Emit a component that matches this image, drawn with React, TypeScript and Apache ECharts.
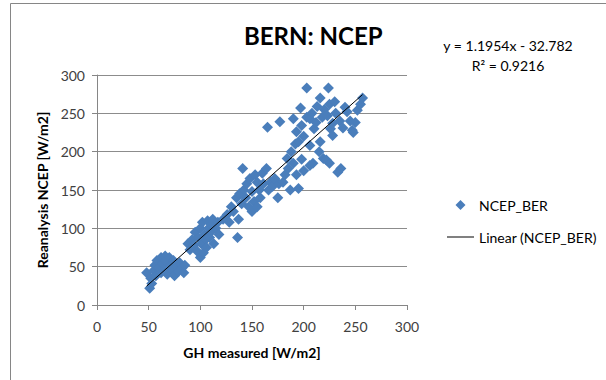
import React, { useEffect, useRef } from "react";
import * as echarts from "echarts";

// GH measured [W/m2]
const ghMeasured: number[] = [
  48, 51, 52, 53, 55, 56, 57, 58, 60, 62, 62, 63, 66, 66, 67, 68, 70, 71, 72, 74, 75, 77, 79, 80, 82, 84, 85,
  88, 90, 92, 94, 95, 97, 98, 100, 100, 101, 102, 103, 104, 105, 106, 107, 108, 109, 110, 111, 112, 113, 115, 117, 118, 122, 126,
  136,
  128, 130, 132, 135, 137, 138, 140, 141, 142, 144, 145, 147, 148, 150, 150, 152, 153, 155, 155, 157, 158, 160, 161, 164, 166, 168, 170, 172, 175, 176, 165, 177,
  180, 182, 184, 185, 187, 188, 190, 190, 192, 193, 193, 195, 195, 197, 198, 198, 200, 200, 203, 203, 206, 206, 206, 208, 209, 210, 212, 213, 215, 216, 216, 218, 219, 220, 222, 223, 224, 225, 225, 226, 228, 228, 230, 231, 233, 235, 236, 238, 240, 242, 245, 247, 250, 252, 255, 257, 248,
];

// Reanalysis NCEP [W/m2]
const ncepReanalysis: number[] = [
  42, 22, 35, 28, 45, 52, 38, 58, 48, 62, 42, 54, 64, 48, 57, 40, 62, 52, 46, 58, 38, 50, 44, 55, 48, 42, 52,
  80, 72, 85, 78, 95, 70, 88, 62, 100, 80, 108, 68, 92, 85, 75, 110, 100, 88, 95, 105, 112, 80, 100, 108, 92, 112, 118,
  88,
  108, 128, 122, 140, 112, 145, 132, 178, 150, 140, 158, 128, 165, 148, 122, 135, 170, 160, 128, 150, 140, 172, 158, 178, 150, 160, 155, 165, 140, 158, 232, 239,
  160, 170, 191, 178, 150, 200, 185, 243, 210, 170, 226, 152, 213, 257, 234, 190, 220, 175, 283, 245, 208, 243, 182, 250, 185, 230, 238, 259, 200, 213, 270, 245, 191, 255, 189, 247, 283, 185, 262, 230, 221, 237, 265, 250, 173, 240, 178, 231, 258, 252, 240, 228, 238, 254, 262, 270, 225,
];

// Linear trend shown in the chart: y = 1.1954x - 32.782
const trendSlope = 1.1954;
const trendIntercept = -32.782;
const trendLabel = ["y = 1.1954x - 32.782", "R\u00B2 = 0.9216"];

const seriesName = "NCEP_BER";
const trendName = "Linear (NCEP_BER)";

const FONT = "Lato, 'Liberation Sans', sans-serif";

export default function App() {
  const ref = useRef<HTMLDivElement>(null);
  useEffect(() => {
    if (!ref.current) return;
    const chart = echarts.init(ref.current, undefined, { renderer: "svg" });
    const points = ghMeasured.map((x, i) => [x, ncepReanalysis[i]]);
    const xMin = Math.min(...ghMeasured);
    const xMax = Math.max(...ghMeasured);
    const trend = [
      [xMin, trendSlope * xMin + trendIntercept],
      [xMax, trendSlope * xMax + trendIntercept],
    ];
    chart.setOption({
      animation: false,
      backgroundColor: "#ffffff",
      textStyle: { fontFamily: FONT },
      title: {
        text: "BERN: NCEP",
        left: 244,
        top: 23,
        padding: 0,
        textStyle: { fontSize: 24, fontWeight: "bold", color: "#000", fontFamily: FONT },
      },
      grid: { left: 97, right: 199, top: 75, bottom: 75, containLabel: false },
      legend: {
        orient: "vertical",
        left: 447,
        top: 197,
        itemWidth: 27,
        itemHeight: 10,
        itemGap: 16,
        padding: 0,
        symbolKeepAspect: true,
        textStyle: { fontSize: 14, color: "#000", fontFamily: FONT, lineHeight: 16 },
        data: [
          { name: seriesName, icon: "path://M0,4.5L4.5,0L9,4.5L4.5,9Z" },
          { name: trendName, icon: "path://M0,0H27V1H0Z", itemStyle: { color: "#000" } },
        ],
      },
      xAxis: {
        type: "value",
        min: 0,
        max: 300,
        interval: 50,
        name: "GH measured [W/m2]",
        nameLocation: "middle",
        nameGap: 40,
        nameTextStyle: { fontSize: 14, fontWeight: "bold", color: "#000", fontFamily: FONT },
        axisLine: { show: true, lineStyle: { color: "#868686", width: 1 } },
        axisTick: { show: true, length: 5, lineStyle: { color: "#868686" } },
        axisLabel: { fontSize: 14, color: "#404040", margin: 14, fontFamily: FONT },
        splitLine: { show: false },
      },
      yAxis: {
        type: "value",
        min: 0,
        max: 300,
        interval: 50,
        name: "Reanalysis NCEP [W/m2]",
        nameLocation: "middle",
        nameGap: 48,
        nameRotate: 90,
        nameTextStyle: { fontSize: 14, fontWeight: "bold", color: "#000", fontFamily: FONT },
        axisLine: { show: true, lineStyle: { color: "#868686", width: 1 } },
        axisTick: { show: true, length: 5, lineStyle: { color: "#868686" } },
        axisLabel: { fontSize: 14, color: "#404040", margin: 12, fontFamily: FONT },
        splitLine: { show: true, lineStyle: { color: "#8c8c8c", width: 1 } },
      },
      series: [
        {
          name: seriesName,
          type: "scatter",
          symbol: "diamond",
          symbolSize: 11,
          itemStyle: { color: "#4a7ebb", opacity: 1 },
          data: points,
          z: 2,
        },
        {
          name: trendName,
          type: "line",
          symbol: "none",
          lineStyle: { color: "#000", width: 1 },
          itemStyle: { color: "#000" },
          data: trend,
          z: 3,
        },
      ],
      graphic: [
        {
          type: "rect",
          shape: { x: 10.5, y: 3.5, width: 800, height: 600 },
          style: { fill: "none", stroke: "#868686", lineWidth: 1 },
          silent: true,
        },
        {
          type: "text",
          x: 508,
          y: 35,
          style: {
            text: trendLabel.join("\n"),
            fontSize: 14,
            lineHeight: 20,
            fontFamily: FONT,
            fill: "#000",
            align: "center",
            textAlign: "center",
          },
        },
      ],
    });
    return () => chart.dispose();
  }, []);
  return (
    <div
      ref={ref}
      style={{ position: "fixed", left: 0, top: 0, width: 606, height: 380 }}
    />
  );
}
